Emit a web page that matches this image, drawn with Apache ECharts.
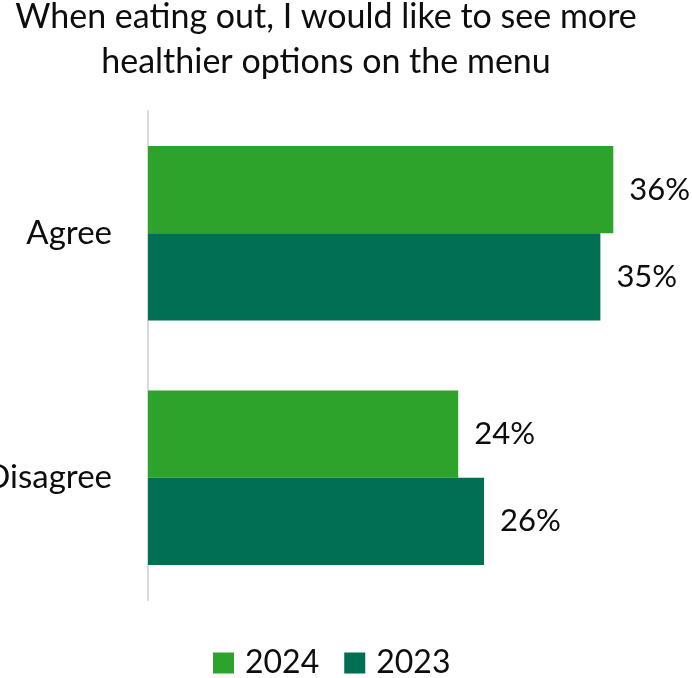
<!DOCTYPE html>
<html>
<head>
<meta charset="utf-8">
<script src="https://cdn.jsdelivr.net/npm/echarts@6/dist/echarts.min.js"></script>
<style>
  html, body { margin: 0; padding: 0; background: #fff; }
  #chart { width: 692px; height: 678px; }
</style>
</head>
<body>
<div id="chart"></div>
<script>
// Survey answers, share of respondents (%)
const categories = ['Agree', 'Disagree'];
const seriesNames = ['2024', '2023'];
const values2024 = [36, 24];
const values2023 = [35, 26];
const titleText = 'When eating out, I would like to see more\nhealthier options on the menu';

const FONT = 'Lato';
const colors = ['#2CA42C', '#006F52'];

const chart = echarts.init(document.getElementById('chart'), null, { renderer: 'canvas' });

const labelStyle = {
  show: true,
  position: 'right',
  distance: 16,
  formatter: '{c}%',
  fontFamily: FONT,
  fontSize: 31,
  color: '#0d0d0d'
};

chart.setOption({
  animation: false,
  backgroundColor: '#ffffff',
  // two-line heading, centred over the plot
  graphic: [{
    type: 'text',
    x: 326,
    y: -5,
    style: {
      text: titleText,
      align: 'center',
      verticalAlign: 'top',
      fontFamily: FONT,
      fontSize: 34,
      lineHeight: 45,
      fill: '#0d0d0d'
    }
  }],
  legend: {
    data: seriesNames,
    top: 647,
    left: 213,
    icon: 'rect',
    itemWidth: 21,
    itemHeight: 21,
    itemGap: 25,
    padding: 0,
    textStyle: {
      fontFamily: FONT,
      fontSize: 32,
      color: '#0d0d0d',
      padding: [0, 0, 0, 6]
    }
  },
  grid: {
    left: 148,
    top: 111,
    width: 517,
    height: 489,
    containLabel: false,
    outerBoundsMode: 'none'
  },
  xAxis: {
    type: 'value',
    min: 0,
    max: 40,
    show: false,
    splitLine: { show: false }
  },
  yAxis: {
    type: 'category',
    data: categories,
    inverse: true,
    axisLine: { show: true, lineStyle: { color: '#D9D9D9', width: 2 } },
    axisTick: { show: false },
    axisLabel: {
      margin: 36,
      fontFamily: FONT,
      fontSize: 33,
      color: '#0d0d0d'
    }
  },
  series: [
    {
      name: seriesNames[0],
      type: 'bar',
      data: values2024,
      barGap: '0%',
      barCategoryGap: '28.6%',
      itemStyle: { color: colors[0] },
      label: labelStyle
    },
    {
      name: seriesNames[1],
      type: 'bar',
      data: values2023,
      barGap: '0%',
      barCategoryGap: '28.6%',
      itemStyle: { color: colors[1] },
      label: labelStyle
    }
  ]
});
</script>
</body>
</html>
